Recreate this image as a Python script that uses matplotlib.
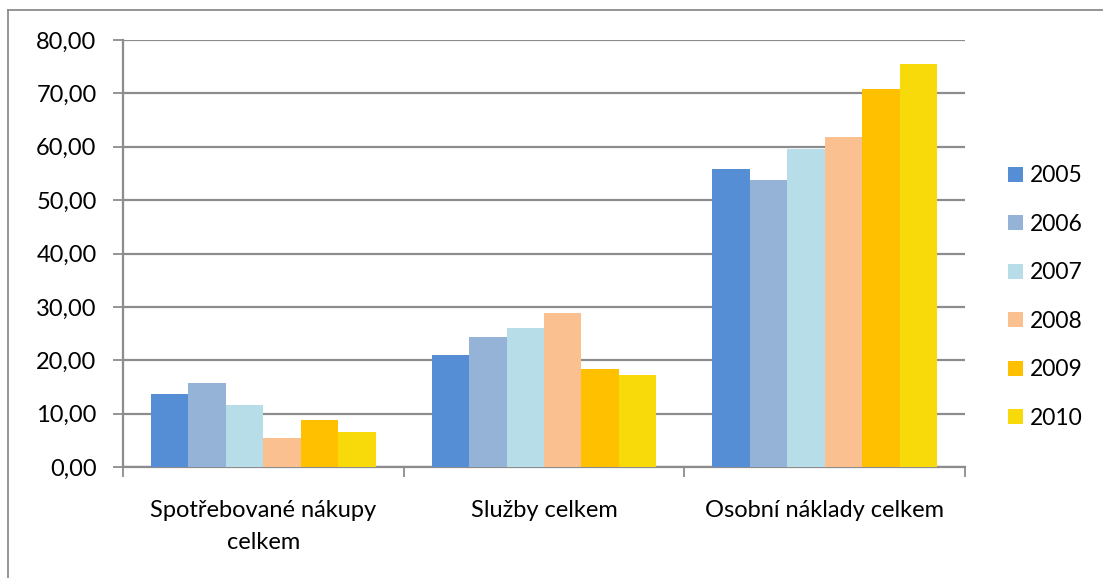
import numpy as np
import matplotlib.pyplot as plt
from matplotlib.lines import Line2D

plt.rcParams['font.family'] = ['Lato', 'DejaVu Sans']

categories = ['Spotřebované nákupy\ncelkem', 'Služby celkem', 'Osobní náklady celkem']
years = ['2005', '2006', '2007', '2008', '2009', '2010']
values = {
    '2005': [13.6, 21.0, 55.8],
    '2006': [15.8, 24.3, 53.7],
    '2007': [11.6, 26.0, 59.5],
    '2008': [5.5, 28.9, 61.8],
    '2009': [8.8, 18.3, 70.8],
    '2010': [6.5, 17.2, 75.5],
}
colors = ['#558ED5', '#95B3D7', '#B7DEE8', '#FAC090', '#FFC000', '#F8DA0A']

fig = plt.figure(figsize=(11.03, 5.78), dpi=100)
ax = fig.add_axes([123 / 1103, 1 - 467 / 578, (965 - 123) / 1103, (467 - 40) / 578])

x = np.arange(len(categories))
bw = 0.8 / len(years)
for i, (yr, c) in enumerate(zip(years, colors)):
    ax.bar(x - 0.4 + bw * (i + 0.5), values[yr], width=bw, color=c, label=yr,
           zorder=3, linewidth=0)

grid_c = '#8C8C8C'
fs = 17
ax.set_ylim(0, 80)
ax.set_xlim(-0.5, len(categories) - 0.5)
ax.set_yticks(np.arange(0, 81, 10))
ax.set_yticklabels([f'{v:.2f}'.replace('.', ',') for v in np.arange(0, 81, 10)])
ax.yaxis.grid(True, color=grid_c, linewidth=1.6, zorder=0)
ax.set_axisbelow(True)

# category labels, with boundary tick marks
ax.set_xticks(x)
ax.set_xticklabels(categories, linespacing=1.6)
ax.tick_params(axis='x', length=0, pad=24, labelsize=fs)
ax.set_xticks(np.arange(-0.5, len(categories)), minor=True)
ax.tick_params(axis='x', which='minor', length=7, width=1.3, color=grid_c)
ax.tick_params(axis='y', length=7, width=1.3, color=grid_c, pad=12, labelsize=fs)

for s in ['top', 'right']:
    ax.spines[s].set_visible(False)
for s in ['left', 'bottom']:
    ax.spines[s].set_color(grid_c)
    ax.spines[s].set_linewidth(1.6)

leg = ax.legend(loc='center left', bbox_to_anchor=(1.037, 0.398), frameon=False,
                fontsize=16.5, handlelength=0.66, handleheight=0.66, borderpad=0,
                handletextpad=0.3, labelspacing=1.2)

# chart border
fig.add_artist(Line2D([8 / 1103, 8 / 1103], [0, 1 - 10 / 578], color='#8C8C8C', lw=1.3))
fig.add_artist(Line2D([8 / 1103, 1], [1 - 10 / 578, 1 - 10 / 578], color='#8C8C8C', lw=1.3))

plt.savefig('out.png', dpi=100)
